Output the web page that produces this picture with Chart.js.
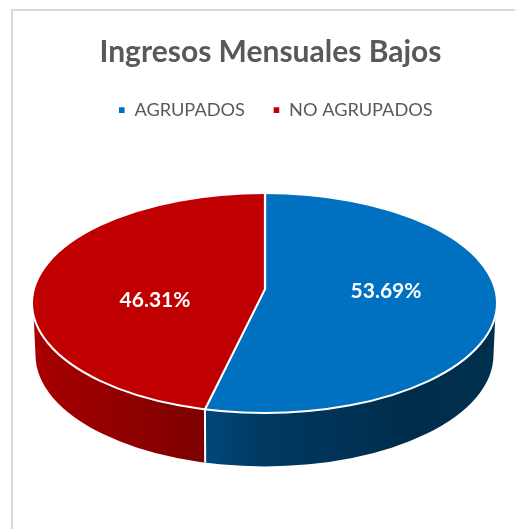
<!DOCTYPE html>
<html>
<head>
<meta charset="utf-8">
<style>
  html, body { margin: 0; padding: 0; background: #fff; overflow: hidden; }
  #frame { position: absolute; left: 11px; top: 9px; width: 504px; height: 520px;
           border-left: 2px solid #d9d9d9; border-top: 2px solid #d9d9d9; }
  canvas { position: absolute; left: 0; top: 0; }
</style>
<script src="https://cdn.jsdelivr.net/npm/chart.js@4"></script>
</head>
<body>
<div id="frame"></div>
<canvas id="pieChart" width="515" height="529"></canvas>
<script>
const categories = ['AGRUPADOS', 'NO AGRUPADOS'];
const shares = [53.69, 46.31];
const sliceColors = ['#0070c0', '#c00000'];

// layout of the tilted pie, in page pixels
const hub = { x: 265, y: 289 };
const rim = { x: 264.5, y: 303, rx: 232.5, ry: 110 };
const base = { x: 264.5, y: 355, rx: 229, ry: 111.5 };
const rimJoinY = 316;
const labelSpots = [{ x: 386, y: 291 }, { x: 155, y: 300 }];

function rimHitX(angle) {
  // where the ray out of the hub meets the top ellipse
  const tilt = rim.ry / rim.rx;
  const dx = Math.cos(angle), dy = Math.sin(angle) * tilt;
  const ox = hub.x - rim.x, oy = hub.y - rim.y;
  const a = dx * dx / (rim.rx * rim.rx) + dy * dy / (rim.ry * rim.ry);
  const b = 2 * (ox * dx / (rim.rx * rim.rx) + oy * dy / (rim.ry * rim.ry));
  const c = ox * ox / (rim.rx * rim.rx) + oy * oy / (rim.ry * rim.ry) - 1;
  const t = (-b + Math.sqrt(b * b - 4 * a * c)) / (2 * a);
  return { x: hub.x + dx * t, y: hub.y + dy * t };
}

function wallPath(ctx) {
  const leftTop = Math.PI - Math.asin((rimJoinY - rim.y) / rim.ry);
  const rightTop = Math.asin((rimJoinY - rim.y) / rim.ry);
  ctx.beginPath();
  ctx.ellipse(rim.x, rim.y, rim.rx, rim.ry, 0, leftTop, rightTop, true);
  ctx.lineTo(base.x + base.rx, base.y);
  ctx.ellipse(base.x, base.y, base.rx, base.ry, 0, 0, Math.PI, false);
  ctx.closePath();
}

const tiltedPie = {
  id: 'tiltedPie',
  afterLayout(chart) {
    // title sits a little left of the legend in the reference
    chart.titleBlock.left -= 5;
    chart.titleBlock.right -= 5;
  },
  beforeDatasetsDraw(chart) {
    const ctx = chart.ctx;
    const arcs = chart.getDatasetMeta(0).data;
    const hit = rimHitX(arcs[0].endAngle);

    // side wall, split under the slice boundary
    const blueWall = ctx.createLinearGradient(hit.x, 0, rim.x + rim.rx, 0);
    blueWall.addColorStop(0, '#00477a');
    blueWall.addColorStop(0.2, '#003a63');
    blueWall.addColorStop(0.7, '#002c4a');
    blueWall.addColorStop(1, '#00304f');
    const redWall = ctx.createLinearGradient(rim.x - rim.rx, 0, hit.x, 0);
    redWall.addColorStop(0, '#a80000');
    redWall.addColorStop(1, '#7c0000');

    ctx.save();
    wallPath(ctx);
    ctx.clip();
    ctx.fillStyle = redWall;
    ctx.fillRect(0, 0, hit.x, 529);
    ctx.fillStyle = blueWall;
    ctx.fillRect(hit.x, 0, 515 - hit.x, 529);
    ctx.strokeStyle = '#ffffff';
    ctx.lineWidth = 2;
    ctx.beginPath();
    ctx.moveTo(hit.x, hit.y);
    ctx.lineTo(hit.x + 0.5, 529);
    ctx.stroke();
    ctx.restore();

    // top face: the library's arcs squashed about the hub and cut by the rim
    const scaleX = 300 / arcs[0].outerRadius;
    const scaleY = scaleX * rim.ry / rim.rx;
    ctx.save();
    ctx.beginPath();
    ctx.ellipse(rim.x, rim.y, rim.rx, rim.ry, 0, 0, Math.PI * 2);
    ctx.clip();
    ctx.translate(hub.x, hub.y);
    ctx.scale(scaleX, scaleY);
    ctx.translate(-arcs[0].x, -arcs[0].y);
  },
  afterDatasetsDraw(chart) {
    const ctx = chart.ctx;
    ctx.restore();
    ctx.save();
    ctx.strokeStyle = '#ffffff';
    ctx.lineWidth = 2;
    ctx.beginPath();
    ctx.ellipse(rim.x, rim.y, rim.rx, rim.ry, 0, 0, Math.PI * 2);
    ctx.stroke();
    ctx.fillStyle = '#ffffff';
    ctx.font = 'bold 21px Lato';
    ctx.textAlign = 'center';
    ctx.textBaseline = 'middle';
    shares.forEach((v, i) => {
      ctx.fillText(v.toFixed(2) + '%', labelSpots[i].x, labelSpots[i].y);
    });
    ctx.restore();
  },
};

new Chart(document.getElementById('pieChart'), {
  type: 'pie',
  data: {
    labels: categories,
    datasets: [{
      data: shares,
      backgroundColor: sliceColors,
      borderColor: '#ffffff',
      borderWidth: 1.4,
      clip: false,
    }],
  },
  options: {
    responsive: false,
    animation: false,
    layout: { padding: { top: 34, bottom: 20, left: 36 } },
    plugins: {
      tooltip: { enabled: false },
      title: {
        display: true,
        text: 'Ingresos Mensuales Bajos',
        color: '#595959',
        font: { family: 'Lato', size: 30, weight: 'bold' },
        padding: { top: 0, bottom: 3 },
      },
      legend: {
        display: true,
        position: 'top',
        labels: {
          color: '#595959',
          font: { family: 'Lato', size: 18.2 },
          boxWidth: 7,
          boxHeight: 7,
          padding: 28,
        },
      },
    },
  },
  plugins: [tiltedPie],
});
</script>
</body>
</html>
